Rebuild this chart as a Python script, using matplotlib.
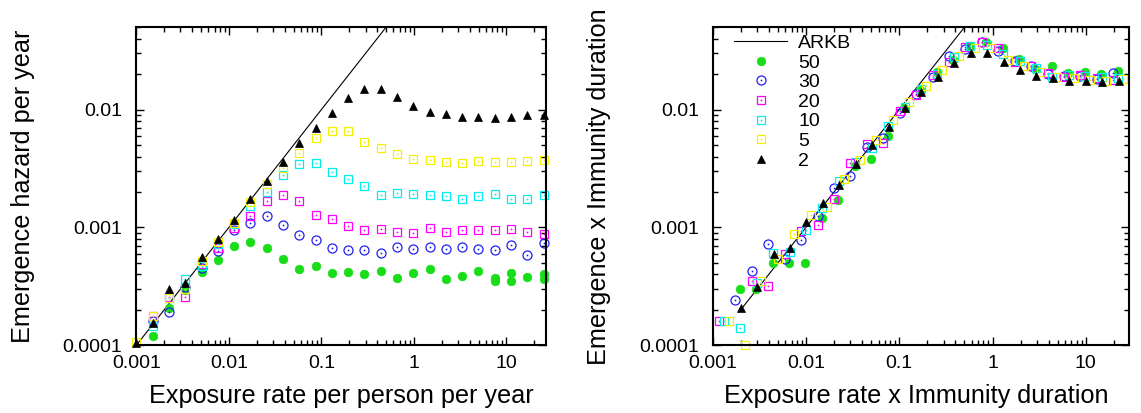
import matplotlib
matplotlib.use("Agg")
import matplotlib.pyplot as plt
from matplotlib.ticker import FuncFormatter, LogLocator
import numpy as np

plt.rcParams['font.family'] = ['Liberation Sans', 'DejaVu Sans']

# exposure rate per person per year (same grid for every immunity duration)
exposure = [3.90e-5, 5.85e-5, 8.78e-5, 1.317e-4, 1.975e-4, 2.963e-4, 4.444e-4,
            6.667e-4, 0.001, 0.0015, 0.00225, 0.003375, 0.005063, 0.007594,
            0.01139, 0.01709, 0.02563, 0.03844, 0.05767, 0.0865, 0.1297,
            0.1946, 0.2919, 0.4379, 0.6568, 0.9853, 1.478, 2.217, 3.325,
            4.988, 7.482, 11.22, 16.83, 25.25]
nan = np.nan

# emergence hazard per year, one list per immunity duration
hazard_50 = [6e-6, 6e-6, 1e-5, 1e-5, 1e-5, 2.42e-5, 3.42e-5, 6.62e-5, 7.64e-5,
             1.2e-4, 2.08e-4, 2.92e-4, 4.2e-4, 5.3e-4, 6.95e-4, 7.5e-4, 6.7e-4,
             5.4e-4, 4.4e-4, 4.67e-4, 4.13e-4, 4.2e-4, 4.0e-4, 4.27e-4, 3.75e-4,
             4.07e-4, 4.4e-4, 3.62e-4, 3.87e-4, 4.27e-4, 3.74e-4, 4.07e-4,
             3.82e-4, 4.0e-4]
hazard_30 = [nan, 8e-6, 1.42e-5, 2.4e-5, 1.8e-5, 2.6e-5, 4.2e-5, 7.2e-5, 9.1e-5,
             1.6e-4, 1.92e-4, 3.1e-4, 4.55e-4, 6.3e-4, 9.5e-4, 1.09e-3, 1.25e-3,
             1.05e-3, 8.6e-4, 7.8e-4, 6.7e-4, 6.4e-4, 6.4e-4, 6.1e-4, 6.8e-4,
             6.5e-4, 6.85e-4, 6.6e-4, 6.85e-4, 6.6e-4, 6.4e-4, 7.1e-4, 5.8e-4,
             7.4e-4]
hazard_20 = [nan, 8e-6, nan, 1.75e-5, 1.59e-5, 2.95e-5, 4.7e-5, 5.25e-5, 8.65e-5,
             1.76e-4, 2.55e-4, 2.58e-4, 4.85e-4, 6.7e-4, 9.9e-4, 1.26e-3, 1.69e-3,
             1.87e-3, 1.68e-3, 1.27e-3, 1.18e-3, 1.03e-3, 9.5e-4, 9.75e-4, 9.2e-4,
             8.9e-4, 9.95e-4, 9.2e-4, 9.6e-4, 9.6e-4, 9.6e-4, 9.75e-4, 9.2e-4,
             8.8e-4]
hazard_10 = [nan, nan, nan, 1.6e-5, 1.39e-5, 3.4e-5, 6.1e-5, 6.2e-5, 9.6e-5,
             1.46e-4, 2.5e-4, 3.62e-4, 4.7e-4, 7.2e-4, 1.06e-3, 1.51e-3, 1.99e-3,
             2.81e-3, 3.47e-3, 3.53e-3, 2.94e-3, 2.58e-3, 2.24e-3, 1.89e-3,
             1.97e-3, 1.93e-3, 1.9e-3, 1.85e-3, 1.75e-3, 1.85e-3, 1.94e-3,
             1.74e-3, 1.76e-3, 1.89e-3]
hazard_5 = [nan, nan, nan, nan, nan, 3.2e-5, 2.0e-5, 7.0e-5, 1.07e-4,
            1.77e-4, 2.54e-4, 2.98e-4, 5.2e-4, 7.5e-4, 1.1e-3, 1.64e-3, 2.34e-3,
            3.2e-3, 4.3e-3, 5.75e-3, 6.64e-3, 6.64e-3, 5.32e-3, 4.7e-3, 4.16e-3,
            3.82e-3, 3.74e-3, 3.58e-3, 3.53e-3, 3.67e-3, 3.56e-3, 3.6e-3,
            3.63e-3, 3.74e-3]
hazard_2 = [nan, nan, nan, nan, nan, nan, nan, nan, 1.04e-4,
            1.56e-4, 2.98e-4, 3.35e-4, 5.6e-4, 8.0e-4, 1.15e-3, 1.73e-3, 2.5e-3,
            3.58e-3, 5.2e-3, 7.0e-3, 9.4e-3, 1.25e-2, 1.50e-2, 1.50e-2, 1.27e-2,
            1.08e-2, 9.6e-3, 9.25e-3, 8.73e-3, 8.7e-3, 8.5e-3, 8.7e-3, 9.0e-3,
            9.05e-3]
# repeated runs for duration 50 at high exposure
exposure_50_extra = [7.482, 11.22, 25.25]
hazard_50_extra = [3.51e-4, 3.51e-4, 3.67e-4]

durations = [50, 30, 20, 10, 5, 2]
arkb_slope = 0.1

styles = {
    50: dict(marker='o', color='#18dd18', filled=True, ms=6.2),
    30: dict(marker='o', color='#2020f0', filled=False, ms=6.5),
    20: dict(marker='s', color='#ff00ff', filled=False, ms=6.3),
    10: dict(marker='s', color='#00eeee', filled=False, ms=6.3),
    5: dict(marker='s', color='#f4f000', filled=False, ms=6.3),
    2: dict(marker='^', color='black', filled=True, ms=6.0),
}


def in_view(ax, x, y):
    x = np.asarray(x, float)
    y = np.asarray(y, float)
    x0, x1 = ax.get_xlim()
    y0, y1 = ax.get_ylim()
    ok = (x >= x0 * 0.98) & (x <= x1) & (y >= y0 * 0.98) & (y <= y1)
    return x[ok], y[ok]


def draw_series(ax, x, y, st):
    x, y = in_view(ax, x, y)
    c = st['color']
    if st['filled']:
        h = ax.plot(x, y, ls='none', marker=st['marker'], ms=st['ms'], mfc=c,
                    mec=c, mew=0.5, clip_on=False)[0]
        return h
    h1 = ax.plot(x, y, ls='none', marker=st['marker'], ms=st['ms'], mfc='none',
                 mec=c, mew=0.9, clip_on=False)[0]
    h2 = ax.plot(x, y, ls='none', marker='o', ms=1.3, mfc=c, mec='none',
                 clip_on=False)[0]
    return (h1, h2)


def style_axes(ax, xmax):
    ax.set_xscale('log')
    ax.set_yscale('log')
    ax.set_xlim(0.001, xmax)
    ax.set_ylim(0.0001, 0.05)
    fmt = FuncFormatter(lambda v, p: '%g' % v)
    ax.xaxis.set_major_formatter(fmt)
    ax.yaxis.set_major_formatter(fmt)
    ax.xaxis.set_minor_formatter(FuncFormatter(lambda v, p: ''))
    ax.yaxis.set_minor_formatter(FuncFormatter(lambda v, p: ''))
    ax.xaxis.set_minor_locator(LogLocator(subs=np.arange(2, 10), numticks=20))
    ax.yaxis.set_minor_locator(LogLocator(subs=np.arange(2, 10), numticks=20))
    ax.tick_params(which='both', direction='in', top=True, right=True,
                   labelsize=14, width=1.0)
    ax.tick_params(which='major', length=6)
    ax.tick_params(which='minor', length=3.5)
    ax.tick_params(axis='x', pad=7)
    ax.tick_params(axis='y', pad=10)
    for s in ax.spines.values():
        s.set_linewidth(1.5)


fig = plt.figure(figsize=(11.41, 4.13), dpi=100)
ax1 = fig.add_axes([0.1195, 0.164, 0.3593, 0.770])
ax2 = fig.add_axes([0.6246, 0.164, 0.3646, 0.770])
style_axes(ax1, 27)
style_axes(ax2, 28.8)

x_all = np.array(exposure)
ax1.plot(x_all, arkb_slope * x_all, color='black', lw=0.8)
line = ax2.plot(x_all * 50, arkb_slope * x_all * 50, color='black', lw=0.8)[0]

hazards = {50: hazard_50, 30: hazard_30, 20: hazard_20, 10: hazard_10,
           5: hazard_5, 2: hazard_2}
handles = [line]
for d in durations:
    y = np.array(hazards[d])
    draw_series(ax1, x_all, y, styles[d])
    h = draw_series(ax2, x_all * d, y * d, styles[d])
    if d == 50:
        draw_series(ax1, exposure_50_extra, hazard_50_extra, styles[d])
    handles.append(h)

ax2.legend(handles, ['ARKB'] + [str(d) for d in durations],
           loc='upper left', bbox_to_anchor=(0.051, 0.977), frameon=False,
           borderpad=0, borderaxespad=0, handlelength=2.75, handletextpad=0.55,
           labelspacing=0.1, fontsize=14, numpoints=1)

ax1.set_xlabel('Exposure rate per person per year', fontsize=18.2, va='center')
ax1.xaxis.set_label_coords(0.5, -0.158)
ax1.set_ylabel('Emergence hazard per year', fontsize=18.2, va='center')
ax1.yaxis.set_label_coords(-0.276, 0.5)
ax2.set_xlabel('Exposure rate x Immunity duration', fontsize=18.2, va='center')
ax2.xaxis.set_label_coords(0.49, -0.158)
ax2.set_ylabel('Emergence x Immunity duration', fontsize=18.2, va='center')
ax2.yaxis.set_label_coords(-0.274, 0.5)

fig.savefig('out.png', dpi=100)
